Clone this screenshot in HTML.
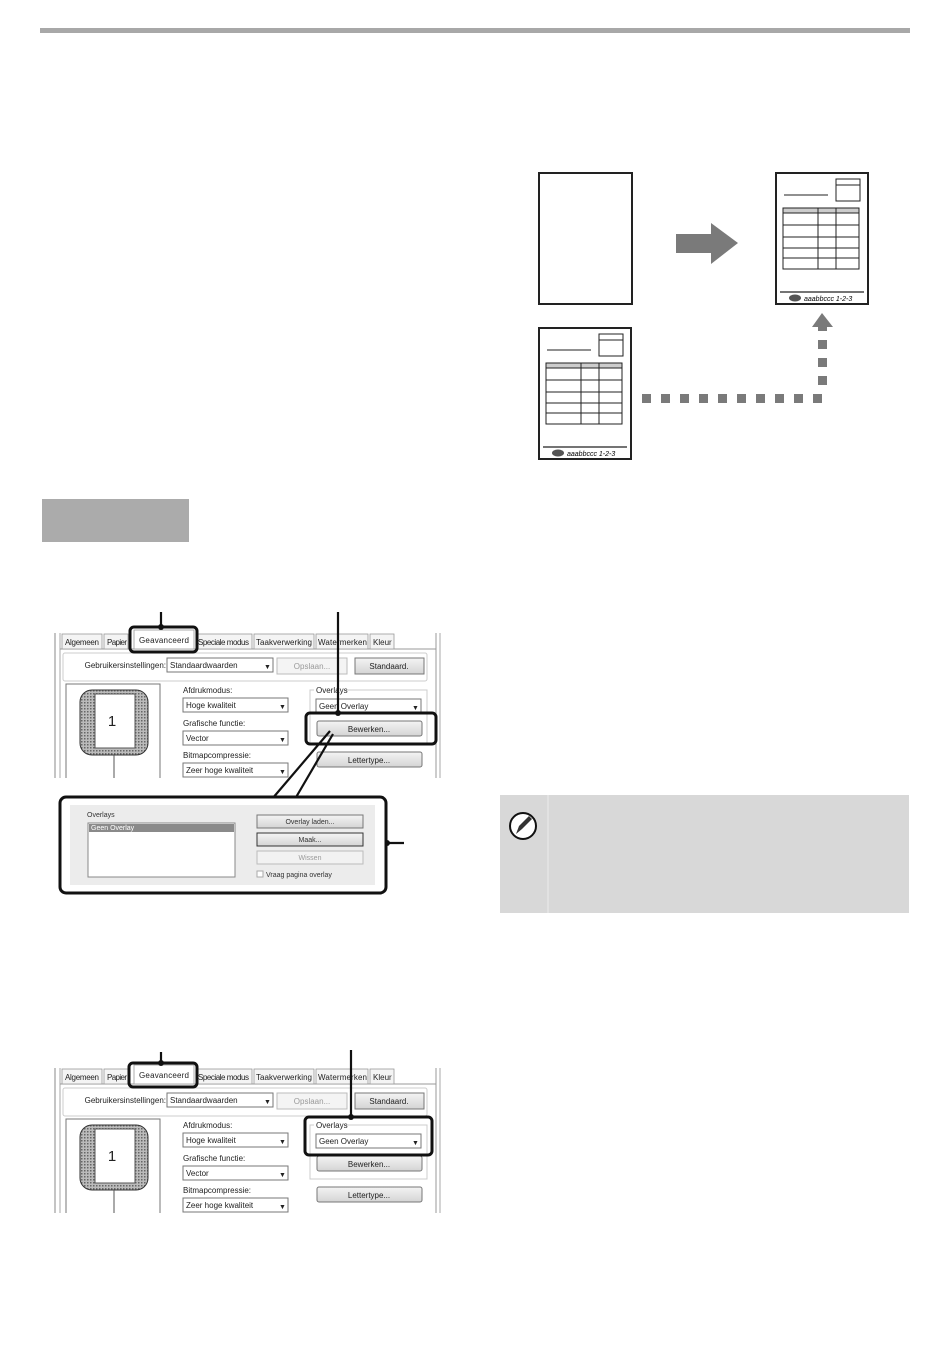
<!DOCTYPE html>
<html><head><meta charset="utf-8"><style>
html,body{margin:0;padding:0;background:#fff;width:950px;height:1370px;overflow:hidden}
svg{display:block}
text{font-family:"Liberation Sans",sans-serif}
</style></head><body>
<svg width="950" height="1370" viewBox="0 0 950 1370" xmlns="http://www.w3.org/2000/svg">
<defs>
<pattern id="hatch" width="3" height="3" patternUnits="userSpaceOnUse">
<rect width="3" height="3" fill="#bbb"/><rect width="1.5" height="1.5" fill="#666"/></pattern>
<linearGradient id="btn" x1="0" y1="0" x2="0" y2="1"><stop offset="0" stop-color="#f4f4f4"/><stop offset="1" stop-color="#d4d4d4"/></linearGradient>
<clipPath id="dclip"><rect x="50" y="625" width="400" height="153"/></clipPath>
<g id="dlg">
<rect x="50" y="633" width="395" height="145" fill="#fff"/>
<line x1="55" y1="633" x2="55" y2="778" stroke="#888"/>
<line x1="60" y1="633" x2="60" y2="778" stroke="#aaa"/>
<line x1="436" y1="633" x2="436" y2="778" stroke="#999"/>
<line x1="440" y1="633" x2="440" y2="778" stroke="#aaa"/>
<line x1="60" y1="649" x2="436" y2="649" stroke="#999"/>
<g font-size="8" fill="#222">
<rect x="62" y="634" width="40" height="15" fill="#f4f4f4" stroke="#999" stroke-width="0.8"/><text x="65" y="645" textLength="34">Algemeen</text>
<rect x="104" y="634" width="24" height="15" fill="#f4f4f4" stroke="#999" stroke-width="0.8"/><text x="107" y="645" textLength="20">Papier</text>
<rect x="134" y="630" width="60" height="19" fill="#fff" stroke="#999" stroke-width="0.8"/><text x="139" y="643" textLength="50">Geavanceerd</text>
<rect x="196" y="634" width="56" height="15" fill="#f4f4f4" stroke="#999" stroke-width="0.8"/><text x="198" y="645" textLength="51">Speciale modus</text>
<rect x="254" y="634" width="60" height="15" fill="#f4f4f4" stroke="#999" stroke-width="0.8"/><text x="256" y="645" textLength="56">Taakverwerking</text>
<rect x="316" y="634" width="52" height="15" fill="#f4f4f4" stroke="#999" stroke-width="0.8"/><text x="318" y="645" textLength="49">Watermerken</text>
<rect x="370" y="634" width="24" height="15" fill="#f4f4f4" stroke="#999" stroke-width="0.8"/><text x="373" y="645">Kleur</text>
<rect x="63" y="653" width="364" height="28" fill="#fff" stroke="#ccc" rx="2"/>
<text x="166" y="668" text-anchor="end">Gebruikersinstellingen:</text>
<rect x="167" y="658" width="106" height="14" fill="#fff" stroke="#777"/><text x="170" y="668">Standaardwaarden</text><text x="264" y="669" font-size="7">▼</text>
<rect x="277" y="658" width="70" height="16" fill="#f4f4f4" stroke="#bbb"/><text x="312" y="669" text-anchor="middle" fill="#999">Opslaan...</text>
<rect x="355" y="658" width="69" height="16" fill="url(#btn)" stroke="#777"/><text x="389" y="669" text-anchor="middle">Standaard.</text>
<rect x="66" y="684" width="94" height="100" fill="#fff" stroke="#777"/>
<rect x="80" y="690" width="68" height="65" rx="12" fill="url(#hatch)" stroke="#333"/>
<rect x="95" y="694" width="40" height="54" fill="#fff" stroke="#555"/>
<text x="112" y="726" font-size="15" text-anchor="middle">1</text>
<line x1="114" y1="755" x2="114" y2="780" stroke="#555"/>
<text x="183" y="693">Afdrukmodus:</text>
<rect x="183" y="698" width="105" height="14" fill="#fff" stroke="#777"/><text x="186" y="708">Hoge kwaliteit</text><text x="279" y="709" font-size="7">▼</text>
<text x="183" y="726">Grafische functie:</text>
<rect x="183" y="731" width="105" height="14" fill="#fff" stroke="#777"/><text x="186" y="741">Vector</text><text x="279" y="742" font-size="7">▼</text>
<text x="183" y="758">Bitmapcompressie:</text>
<rect x="183" y="763" width="105" height="14" fill="#fff" stroke="#777"/><text x="186" y="773">Zeer hoge kwaliteit</text><text x="279" y="774" font-size="7">▼</text>
<rect x="310" y="690" width="117" height="54" fill="none" stroke="#ccc"/>
<rect x="314" y="686" width="32" height="8" fill="#fff"/><text x="316" y="693">Overlays</text>
<rect x="316" y="699" width="105" height="14" fill="#fff" stroke="#777"/><text x="319" y="709">Geen Overlay</text><text x="412" y="710" font-size="7">▼</text>
<rect x="317" y="721" width="105" height="15" fill="url(#btn)" stroke="#777" rx="2"/><text x="369" y="732" text-anchor="middle">Bewerken...</text>
<rect x="317" y="752" width="105" height="15" fill="url(#btn)" stroke="#777" rx="2"/><text x="369" y="763" text-anchor="middle">Lettertype...</text>
<text x="317" y="785">Kerkening</text>
</g>
</g>
</defs>

<rect x="40" y="28" width="870" height="5" fill="#a8a8a8"/>

<rect x="539" y="173" width="93" height="131" fill="#fff" stroke="#222" stroke-width="2"/>
<polygon points="676,234 711,234 711,223 738,243 711,264 711,253 676,253" fill="#7a7a7a"/>
<g id="doc">
<rect x="776" y="173" width="92" height="131" fill="#fff" stroke="#222" stroke-width="2"/>
<rect x="836" y="179" width="24" height="22" fill="none" stroke="#222"/>
<line x1="836" y1="185" x2="860" y2="185" stroke="#222"/>
<line x1="784" y1="195" x2="828" y2="195" stroke="#222"/>
<rect x="783" y="208" width="76" height="5" fill="#ccc"/>
<rect x="783" y="208" width="76" height="61" fill="none" stroke="#222"/>
<g stroke="#222"><line x1="783" y1="213" x2="859" y2="213"/><line x1="783" y1="225" x2="859" y2="225"/><line x1="783" y1="237" x2="859" y2="237"/><line x1="783" y1="248" x2="859" y2="248"/><line x1="783" y1="258" x2="859" y2="258"/><line x1="818" y1="208" x2="818" y2="269"/><line x1="836" y1="208" x2="836" y2="269"/>
<line x1="780" y1="292" x2="864" y2="292" stroke-width="1.3"/></g>
<ellipse cx="795" cy="298" rx="6" ry="3.5" fill="#555"/>
<text x="804" y="301" font-size="7" font-style="italic" font-family="Liberation Serif">aaabbccc 1-2-3</text>
</g>
<use href="#doc" transform="translate(-237,155)"/>
<g fill="#7a7a7a">
<rect x="642" y="394" width="9" height="9"/><rect x="661" y="394" width="9" height="9"/><rect x="680" y="394" width="9" height="9"/><rect x="699" y="394" width="9" height="9"/><rect x="718" y="394" width="9" height="9"/><rect x="737" y="394" width="9" height="9"/><rect x="756" y="394" width="9" height="9"/><rect x="775" y="394" width="9" height="9"/><rect x="794" y="394" width="9" height="9"/><rect x="813" y="394" width="9" height="9"/>
<rect x="818" y="376" width="9" height="9"/><rect x="818" y="358" width="9" height="9"/><rect x="818" y="340" width="9" height="9"/>
<polygon points="822,313 833,327 827,327 827,331 818,331 818,327 812,327"/>
</g>

<rect x="42" y="499" width="147" height="43" fill="#ababab"/>

<g clip-path="url(#dclip)"><use href="#dlg"/></g>
<g stroke="#111" stroke-width="2.2" fill="none">
<line x1="161" y1="612" x2="161" y2="627"/>
<rect x="130" y="627" width="67" height="25" rx="4" stroke-width="3"/>
<line x1="338" y1="612" x2="338" y2="713"/>
<rect x="306" y="713" width="130" height="31" rx="4" stroke-width="3"/>
<line x1="330" y1="731" x2="272" y2="799"/>
<line x1="333" y1="734" x2="295" y2="799"/>
<line x1="387" y1="843" x2="404" y2="843"/>
</g>
<circle cx="161" cy="627" r="3" fill="#111"/><circle cx="338" cy="713" r="3" fill="#111"/><circle cx="387" cy="843" r="3" fill="#111"/>
<rect x="60" y="797" width="326" height="96" rx="6" fill="#fff" stroke="#111" stroke-width="3"/>
<rect x="70" y="805" width="305" height="80" fill="#ececec"/>
<g font-size="7" fill="#333">
<text x="87" y="817">Overlays</text>
<rect x="88" y="823" width="147" height="54" fill="#fff" stroke="#888"/>
<rect x="89" y="824" width="145" height="8" fill="#8a8a8a"/><text x="91" y="830" fill="#fff">Geen Overlay</text>
<rect x="257" y="815" width="106" height="13" fill="url(#btn)" stroke="#777"/><text x="310" y="824" text-anchor="middle">Overlay laden...</text>
<rect x="257" y="833" width="106" height="13" fill="url(#btn)" stroke="#333"/><text x="310" y="842" text-anchor="middle">Maak...</text>
<rect x="257" y="851" width="106" height="13" fill="#f2f2f2" stroke="#bbb"/><text x="310" y="860" text-anchor="middle" fill="#999">Wissen</text>
<rect x="257" y="871" width="6" height="6" fill="#fff" stroke="#aaa"/><text x="266" y="877">Vraag pagina overlay</text>
</g>

<rect x="500" y="795" width="409" height="118" fill="#d8d8d8"/>
<line x1="548" y1="795" x2="548" y2="913" stroke="#e2e2e2" stroke-width="2"/>
<circle cx="523" cy="826" r="13" fill="#fff" stroke="#111" stroke-width="2"/>
<path d="M516 834 L519 826 L529 816 L532 819 L522 829 Z" fill="#333"/>

<g transform="translate(0,435)"><g clip-path="url(#dclip)"><use href="#dlg"/></g></g>
<g stroke="#111" stroke-width="2.2" fill="none">
<line x1="161" y1="1052" x2="161" y2="1063"/>
<rect x="129" y="1063" width="68" height="24" rx="4" stroke-width="3"/>
<line x1="351" y1="1050" x2="351" y2="1117"/>
<rect x="305" y="1117" width="127" height="38" rx="4" stroke-width="3"/>
</g>
<circle cx="161" cy="1063" r="3" fill="#111"/><circle cx="351" cy="1117" r="3" fill="#111"/>
</svg>
</body></html>
